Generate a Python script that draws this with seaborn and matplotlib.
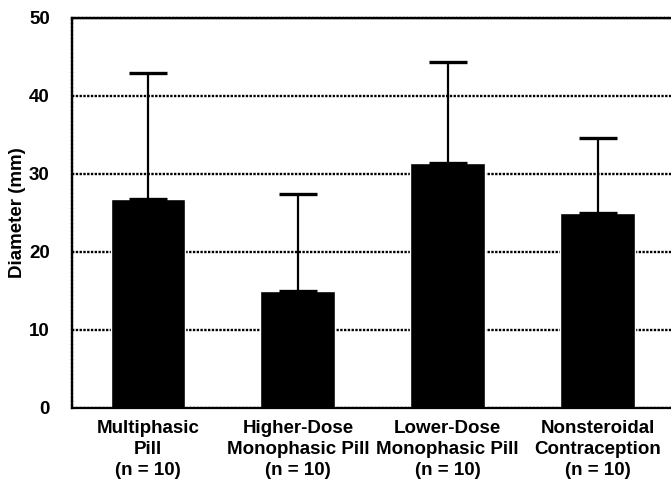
import pandas as pd
import seaborn as sns
import matplotlib
matplotlib.use("Agg")
import matplotlib.pyplot as plt

groups = ["Multiphasic\nPill\n(n = 10)",
          "Higher-Dose\nMonophasic Pill\n(n = 10)",
          "Lower-Dose\nMonophasic Pill\n(n = 10)",
          "Nonsteroidal\nContraception\n(n = 10)"]
mean_diam = [26.8, 15.0, 31.4, 25.0]
sd_upper = [16.2, 12.4, 12.9, 9.6]
y_ticks = [0, 10, 20, 30, 40, 50]

sns.set_style("white")
plt.rcParams["font.family"] = ["Liberation Sans", "DejaVu Sans"]
plt.rcParams["font.weight"] = "bold"
for key in ["text.color", "axes.labelcolor", "xtick.color", "ytick.color",
            "axes.edgecolor"]:
    plt.rcParams[key] = "black"

df = pd.DataFrame({"group": groups, "diameter": mean_diam})

fig = plt.figure(figsize=(6.71, 4.83), dpi=100)
ax = fig.add_axes([0.1073, 0.1553, 0.8927, 0.8075])

sns.barplot(data=df, x="group", y="diameter", color="black", width=0.5,
            errorbar=None, saturation=1, ax=ax)

# one-sided error bars; lower cap sits on the bar top
ax.errorbar(range(len(groups)), mean_diam, yerr=[[0] * 4, sd_upper],
            fmt="none", ecolor="black", elinewidth=1.6, capsize=13.5,
            capthick=2.4, zorder=3)

ax.set_ylim(0, 50)
ax.set_xlim(-0.507, 3.49)
ax.set_yticks(y_ticks)
ax.yaxis.grid(True, linestyle=(0, (1, 0.6)), color="black", linewidth=1.7)
ax.set_axisbelow(True)

for side in ["top", "left"]:
    ax.spines[side].set_linestyle((0, (1, 0.6)))
    ax.spines[side].set_linewidth(1.7)
ax.spines["right"].set_visible(False)
ax.spines["bottom"].set_linewidth(1.6)

ax.tick_params(axis="x", length=0, pad=9, labelsize=13.5)
ax.tick_params(axis="y", length=0, pad=16, labelsize=13.5)
for lab in ax.get_xticklabels():
    lab.set_linespacing(1.3)
    lab.set_fontweight("bold")

ax.set_xlabel("")
ax.set_ylabel("Diameter (mm)", fontsize=13.5, fontweight="bold", labelpad=2)

fig.savefig("out.png", dpi=100)
